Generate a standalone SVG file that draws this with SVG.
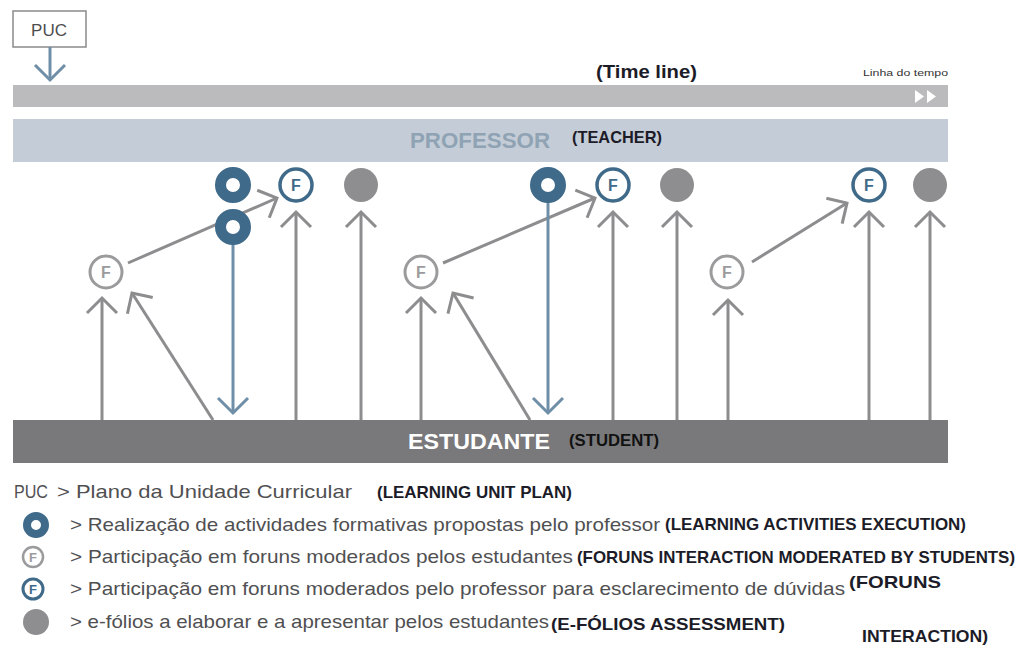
<svg xmlns="http://www.w3.org/2000/svg" width="1019" height="660" viewBox="0 0 1019 660">
<style>
.g{stroke:#8d8d8f;stroke-width:3;fill:none}
.b{stroke:#6f8ea7;stroke-width:3;fill:none}
.ring{fill:none;stroke:#3f6a89;stroke-width:11}
.fd{fill:#fff;stroke:#3f6a89;stroke-width:3.5}
.fg{fill:#fff;stroke:#9b9b9d;stroke-width:3}
.dot{fill:#8e8e90}
.ftd{font-family:"Liberation Sans",Arial,sans-serif;font-weight:bold;font-size:16px;fill:#3f6a89;text-anchor:middle}
.ftg{font-family:"Liberation Sans",Arial,sans-serif;font-weight:bold;font-size:16px;fill:#9b9b9d;text-anchor:middle}
.lg{font-family:"Liberation Sans",Arial,sans-serif;font-size:18.5px;fill:#505052}
.en{font-family:"Liberation Sans",Arial,sans-serif;font-weight:bold;font-size:17px;fill:#1c1c28}
</style>
<defs>
<marker id="ag" viewBox="-17 -17 34 34" markerWidth="34" markerHeight="34" markerUnits="userSpaceOnUse" refX="0" refY="0" orient="auto">
<path d="M-15,-15 L0,0 L-15,15" fill="none" stroke="#8d8d8f" stroke-width="3"/>
</marker>
<marker id="ab" viewBox="-17 -17 34 34" markerWidth="34" markerHeight="34" markerUnits="userSpaceOnUse" refX="0" refY="0" orient="auto">
<path d="M-15,-15 L0,0 L-15,15" fill="none" stroke="#6f8ea7" stroke-width="3"/>
</marker>
</defs>
<rect width="1019" height="660" fill="#fff"/>

<g id="puc">
<rect x="13" y="11" width="73" height="36" fill="#fff" stroke="#8a8a8c" stroke-width="1.5"/>
<text x="49" y="36" font-family="Liberation Sans,Arial,sans-serif" font-size="17" fill="#4d4d4f" text-anchor="middle">PUC</text>
</g>

<g id="timeline">
<rect x="13" y="85" width="935" height="22" fill="#bbbbbd"/>
<path d="M915,90 L924,96.5 L915,103 Z M927,90 L936,96.5 L927,103 Z" fill="#fff"/>
<text x="596" y="78" font-family="Liberation Sans,Arial,sans-serif" font-weight="bold" font-size="19" fill="#1c1c28" textLength="101" lengthAdjust="spacingAndGlyphs">(Time line)</text>
<text x="863" y="76" font-family="Liberation Sans,Arial,sans-serif" font-size="9" fill="#333" textLength="85" lengthAdjust="spacingAndGlyphs">Linha do tempo</text>
</g>

<g id="professor">
<rect x="13" y="119" width="935" height="43" fill="#c4cdd7"/>
<text x="410" y="148" font-family="Liberation Sans,Arial,sans-serif" font-weight="bold" font-size="22" fill="#8fa3b4" textLength="140" lengthAdjust="spacingAndGlyphs">PROFESSOR</text>
<text x="572" y="143" font-family="Liberation Sans,Arial,sans-serif" font-weight="bold" font-size="17" fill="#1c1c28" textLength="90" lengthAdjust="spacingAndGlyphs">(TEACHER)</text>
</g>

<g id="estudante">
<rect x="13" y="420" width="935" height="43" fill="#79797b"/>
<text x="408" y="449" font-family="Liberation Sans,Arial,sans-serif" font-weight="bold" font-size="22" fill="#fff" textLength="142" lengthAdjust="spacingAndGlyphs">ESTUDANTE</text>
<text x="569" y="446" font-family="Liberation Sans,Arial,sans-serif" font-weight="bold" font-size="16" fill="#111" textLength="90" lengthAdjust="spacingAndGlyphs">(STUDENT)</text>
</g>

<g id="connectors">
<line class="b" x1="50" y1="47" x2="50" y2="80" marker-end="url(#ab)"/>
<line class="g" x1="102" y1="420" x2="102" y2="298" marker-end="url(#ag)"/>
<line class="g" x1="213" y1="420" x2="132" y2="293" marker-end="url(#ag)"/>
<line class="g" x1="128" y1="263" x2="277" y2="198" marker-end="url(#ag)"/>
<line class="b" x1="233" y1="240" x2="233" y2="413" marker-end="url(#ab)"/>
<line class="g" x1="296" y1="420" x2="296" y2="212" marker-end="url(#ag)"/>
<line class="g" x1="361" y1="420" x2="361" y2="212" marker-end="url(#ag)"/>
<line class="g" x1="421" y1="420" x2="421" y2="298" marker-end="url(#ag)"/>
<line class="g" x1="530" y1="420" x2="453" y2="293" marker-end="url(#ag)"/>
<line class="g" x1="443" y1="263" x2="595" y2="198" marker-end="url(#ag)"/>
<line class="b" x1="548" y1="198" x2="548" y2="413" marker-end="url(#ab)"/>
<line class="g" x1="613" y1="420" x2="613" y2="212" marker-end="url(#ag)"/>
<line class="g" x1="677" y1="420" x2="677" y2="212" marker-end="url(#ag)"/>
<line class="g" x1="728" y1="420" x2="728" y2="300" marker-end="url(#ag)"/>
<line class="g" x1="752" y1="262" x2="847" y2="203" marker-end="url(#ag)"/>
<line class="g" x1="869" y1="420" x2="869" y2="212" marker-end="url(#ag)"/>
<line class="g" x1="930" y1="420" x2="930" y2="212" marker-end="url(#ag)"/>
</g>

<g id="ring1"><circle class="ring" cx="233" cy="185" r="12.5"/></g>
<g id="ring2"><circle class="ring" cx="233" cy="227" r="12.5"/></g>
<g id="ring3"><circle class="ring" cx="548" cy="185" r="12.5"/></g>

<g id="fp1"><circle class="fd" cx="296" cy="185" r="16"/><text class="ftd" x="296" y="191">F</text></g>
<g id="fp2"><circle class="fd" cx="613" cy="185" r="16"/><text class="ftd" x="613" y="191">F</text></g>
<g id="fp3"><circle class="fd" cx="869" cy="185" r="16"/><text class="ftd" x="869" y="191">F</text></g>

<g id="ef1"><circle class="dot" cx="361" cy="185" r="17"/></g>
<g id="ef2"><circle class="dot" cx="677" cy="185" r="17"/></g>
<g id="ef3"><circle class="dot" cx="930" cy="185" r="17"/></g>

<g id="fs1"><circle class="fg" cx="106" cy="272" r="16"/><text class="ftg" x="106" y="278">F</text></g>
<g id="fs2"><circle class="fg" cx="421" cy="272" r="16"/><text class="ftg" x="421" y="278">F</text></g>
<g id="fs3"><circle class="fg" cx="727" cy="272" r="16"/><text class="ftg" x="727" y="278">F</text></g>

<g id="legend">
<text class="lg" x="14" y="498" textLength="34" lengthAdjust="spacingAndGlyphs">PUC</text>
<text class="lg" x="57" y="498" textLength="295" lengthAdjust="spacingAndGlyphs">&gt; Plano da Unidade Curricular</text>
<text class="en" x="377" y="498" textLength="195" lengthAdjust="spacingAndGlyphs">(LEARNING UNIT PLAN)</text>

<circle cx="36" cy="525" r="9" fill="none" stroke="#3f6a89" stroke-width="8"/>
<text class="lg" x="70" y="531" textLength="590" lengthAdjust="spacingAndGlyphs">&gt; Realização de actividades formativas propostas pelo professor</text>
<text class="en" x="665" y="530" textLength="301" lengthAdjust="spacingAndGlyphs">(LEARNING ACTIVITIES EXECUTION)</text>

<circle cx="33" cy="557" r="10" fill="#fff" stroke="#9b9b9d" stroke-width="2.5"/>
<text x="33" y="562" font-family="Liberation Sans,Arial,sans-serif" font-weight="bold" font-size="13" fill="#9b9b9d" text-anchor="middle">F</text>
<text class="lg" x="70" y="563" textLength="503" lengthAdjust="spacingAndGlyphs">&gt; Participação em foruns moderados pelos estudantes</text>
<text class="en" x="577" y="563" textLength="438" lengthAdjust="spacingAndGlyphs">(FORUNS INTERACTION MODERATED BY STUDENTS)</text>

<circle cx="33" cy="589" r="10" fill="#fff" stroke="#3f6a89" stroke-width="3"/>
<text x="33" y="594" font-family="Liberation Sans,Arial,sans-serif" font-weight="bold" font-size="13" fill="#3f6a89" text-anchor="middle">F</text>
<text class="lg" x="70" y="595" textLength="775" lengthAdjust="spacingAndGlyphs">&gt; Participação em foruns moderados pelo professor para esclarecimento de dúvidas</text>
<text class="en" x="849" y="588" textLength="92" lengthAdjust="spacingAndGlyphs">(FORUNS</text>

<circle cx="36" cy="622" r="13" fill="#8e8e90"/>
<text class="lg" x="70" y="628" textLength="479" lengthAdjust="spacingAndGlyphs">&gt; e-fólios a elaborar e a apresentar pelos estudantes</text>
<text class="en" x="551" y="630" textLength="234" lengthAdjust="spacingAndGlyphs">(E-FÓLIOS ASSESSMENT)</text>
<text class="en" x="862" y="642" textLength="126" lengthAdjust="spacingAndGlyphs">INTERACTION)</text>
</g>
</svg>
